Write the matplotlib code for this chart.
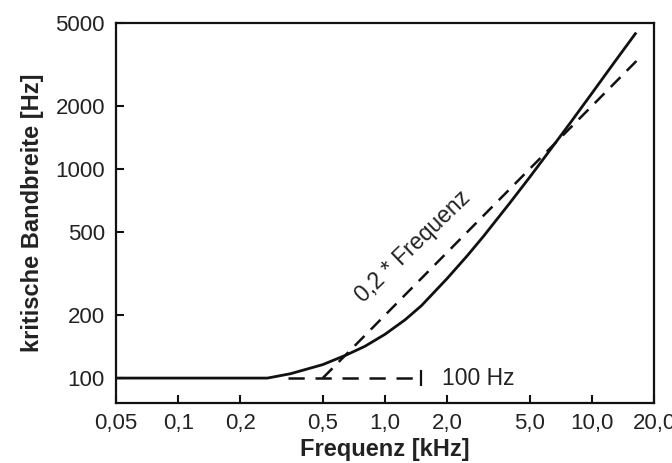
import matplotlib
matplotlib.use("Agg")
import matplotlib.pyplot as plt

plt.rcParams['font.family'] = ['Liberation Sans', 'DejaVu Sans']

# Critical bandwidth curve
freq_khz = [0.05, 0.27, 0.30, 0.35, 0.40, 0.50, 0.65, 0.80, 1.0, 1.25, 1.5, 2.0,
            2.5, 3.0, 4.0, 5.0, 6.0, 8.0, 10.0, 13.0, 16.4]
bandwidth = [100, 100, 102, 105, 109, 116, 129, 142, 162, 190, 222, 300,
             385, 478, 685, 912, 1160, 1700, 2300, 3290, 4500]

# 0.2 * frequency asymptote
prop_khz = [0.5, 17.0]
prop_bw = [100, 3400]

# 100 Hz asymptote
const_khz = [0.34, 1.5]
const_bw = [100, 100]

xticks = [0.05, 0.1, 0.2, 0.5, 1.0, 2.0, 5.0, 10.0, 20.0]
xticklabels = ["0,05", "0,1", "0,2", "0,5", "1,0", "2,0", "5,0", "10,0", "20,0"]
yticks = [100, 200, 500, 1000, 2000, 5000]
yticklabels = ["100", "200", "500", "1000", "2000", "5000"]

fig = plt.figure(figsize=(6.72, 4.63), dpi=100)
ax = fig.add_axes([116/672, 1 - 403/463, (654 - 116)/672, (403 - 23)/463])
ax.set_xscale('log')
ax.set_yscale('log')

lc = '#111111'
ax.plot(freq_khz, bandwidth, color=lc, lw=2.0, solid_capstyle='butt')
ax.plot(prop_khz, prop_bw, color=lc, lw=1.8, dashes=(5.5, 3.6))
ax.plot(const_khz, const_bw, color=lc, lw=1.8, dashes=(6.5, 4.3))
ax.plot(const_khz[-1], const_bw[-1], marker='|', ms=11, mew=1.6, color=lc)

ax.text(1.36, 425, "0,2 * Frequenz", rotation=44, rotation_mode='anchor',
        ha='center', va='center', fontsize=16.5, color='#222222')
ax.text(1.88, 100, "100 Hz", ha='left', va='center', fontsize=16.5, color='#222222')

ax.set_xlim(0.05, 20)
ax.set_ylim(76, 5000)
ax.set_xticks(xticks)
ax.set_xticklabels(xticklabels)
ax.set_yticks(yticks)
ax.set_yticklabels(yticklabels)
ax.minorticks_off()

ax.tick_params(direction='in', length=6, width=1.5, colors=lc, labelcolor='#222222',
               labelsize=16)
ax.tick_params(axis='x', pad=7)
ax.tick_params(axis='y', pad=8)
for s in ax.spines.values():
    s.set_linewidth(1.6)
    s.set_color(lc)

ax.set_xlabel("Frequenz [kHz]", fontsize=17, fontweight='bold', color='#222222', labelpad=3)
ax.set_ylabel("kritische Bandbreite [Hz]", fontsize=17, fontweight='bold', color='#222222', labelpad=8)

fig.savefig("out.png", dpi=100)
